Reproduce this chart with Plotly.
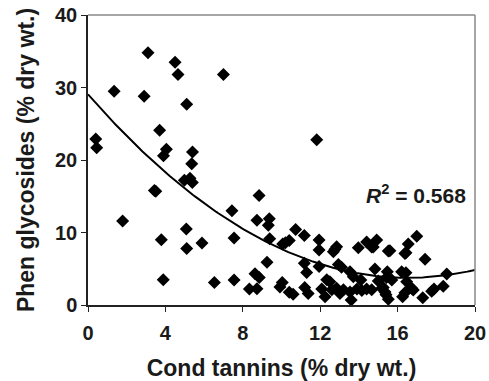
import numpy as np
import plotly.graph_objects as go

# Scatter data (Cond tannins vs Phen glycosides, % dry wt.)
tannins = [
    3.1, 4.5, 4.65, 7.0, 1.35, 2.9, 5.1, 3.7, 0.4, 0.45, 4.05, 3.9, 5.4, 5.36, 4.98, 5.27, 5.39,
    3.43, 3.5, 1.79, 5.08, 3.79, 5.1, 5.89, 3.89, 6.53, 11.82,
    8.84, 7.44, 8.73, 9.37, 9.32, 7.55, 9.39, 10.73, 11.18, 10.06, 10.4, 10.2, 9.25, 11.18,
    7.55, 8.63, 8.85, 8.34, 8.73, 9.92, 10.04, 10.4, 10.6, 11.2, 11.38, 11.3,
    11.94, 11.94, 12.68, 12.85, 13.97, 14.4, 14.66, 14.92, 15.52, 11.94, 12.94, 13.1, 12.34,
    12.5, 13.54, 13.71, 14.1, 14.83, 15.0, 15.47, 12.08, 12.25, 12.6, 12.85, 13.02, 13.2, 13.54,
    13.6, 13.9, 14.15, 14.4, 14.66, 15.18, 15.4, 12.76, 14.74,
    16.99, 16.55, 16.43, 17.42, 15.43, 15.7, 16.21, 16.43, 16.47, 18.54, 15.26, 15.35, 15.52,
    16.26, 16.38, 16.73, 16.81, 17.3, 17.76, 17.88, 18.36, 15.6, 16.38,
]
glycosides = [
    34.8, 33.5, 31.8, 31.8, 29.5, 28.8, 27.7, 24.1, 22.9, 21.7, 21.5, 20.6, 21.1, 19.5, 17.2, 17.5, 16.9,
    15.8, 15.7, 11.6, 10.5, 9.0, 7.8, 8.55, 3.5, 3.1, 22.8,
    15.1, 13.0, 11.7, 11.9, 11.0, 9.24, 9.15, 10.4, 9.6, 8.4, 8.9, 8.6, 5.9, 5.75,
    3.45, 4.3, 3.8, 2.2, 2.25, 2.5, 3.1, 1.75, 1.5, 2.4, 1.6, 4.5,
    8.97, 7.6, 7.35, 8.05, 7.9, 8.7, 8.0, 8.97, 7.45, 5.3, 5.6, 5.2, 3.5,
    3.2, 4.6, 3.9, 3.45, 4.97, 3.3, 4.6, 2.2, 1.15, 2.1, 2.3, 1.6, 2.1, 1.8,
    0.7, 2.2, 2.0, 2.2, 2.1, 2.3, 1.4, 7.7, 8.0,
    9.5, 8.4, 7.2, 6.3, 3.8, 3.45, 4.6, 4.45, 3.2, 4.28, 2.4, 1.8, 0.8,
    1.15, 1.7, 2.3, 2.07, 1.0, 1.9, 2.2, 2.6, 7.5, 7.1,
]
r2_label = "0.568"
x_ticks = [0, 4, 8, 12, 16, 20]
y_ticks = [0, 10, 20, 30, 40]

# Second-order polynomial trend fitted to the data
coef = np.polyfit(tannins, glycosides, 2)
xs = np.linspace(0, 20, 200)
ys = np.polyval(coef, xs)

FONT = "Liberation Sans, Arial, sans-serif"
TXT = "#1a1a1a"

fig = go.Figure()
fig.add_trace(go.Scatter(
    x=tannins, y=glycosides, mode="markers",
    marker=dict(symbol="diamond", size=10, color="black", line=dict(width=0)),
    showlegend=False, cliponaxis=False,
))
fig.add_trace(go.Scatter(
    x=xs, y=ys, mode="lines", line=dict(color="black", width=2),
    showlegend=False,
))

fig.update_layout(
    width=489, height=381,
    margin=dict(l=88, r=14, t=15, b=76, autoexpand=False),
    paper_bgcolor="white", plot_bgcolor="white",
    font=dict(family=FONT, color=TXT),
    xaxis=dict(
        range=[0, 20], tickvals=x_ticks, ticktext=[str(v) for v in x_ticks],
        showgrid=False, zeroline=False, showline=True, linecolor="#222", linewidth=1.5,
        ticks="outside", ticklen=5, tickcolor="#222", tickwidth=1, automargin=False,
        ticklabelstandoff=4,
        tickfont=dict(size=20, family=FONT, weight="bold", color=TXT),
        title=dict(text="<b>Cond tannins (% dry wt.)</b>", font=dict(size=23, family=FONT, color=TXT), standoff=18),
    ),
    yaxis=dict(
        range=[0, 40], tickvals=y_ticks, ticktext=[str(v) for v in y_ticks],
        showgrid=False, zeroline=False, showline=True, linecolor="#222", linewidth=1.5,
        ticks="outside", ticklen=5, tickcolor="#222", tickwidth=1, automargin=False,
        tickfont=dict(size=20, family=FONT, weight="bold", color=TXT),
        title=dict(text="<b>Phen glycosides (% dry wt.)</b>", font=dict(size=23, family=FONT, color=TXT), standoff=14),
    ),
    shapes=[
        dict(type="line", xref="paper", yref="paper", x0=0, x1=1, y0=1, y1=1,
             line=dict(color="#888", width=1.5)),
        dict(type="line", xref="paper", yref="paper", x0=1, x1=1, y0=0, y1=1,
             line=dict(color="#888", width=1.5)),
    ],
    annotations=[
        dict(x=19.65, y=15.3, xref="x", yref="y", xanchor="right", yanchor="middle",
             text="<b><i>R</i><sup>2</sup> = " + r2_label + "</b>", showarrow=False,
             font=dict(size=21, family=FONT, color=TXT)),
    ],
)

fig.write_html("out.html")
